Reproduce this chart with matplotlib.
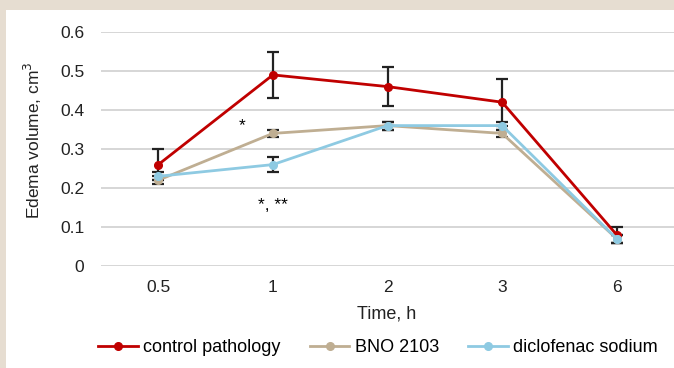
import numpy as np
import matplotlib.pyplot as plt

plt.rcParams['font.family'] = ['Liberation Sans', 'DejaVu Sans']

# data
times = ['0.5', '1', '2', '3', '6']
control = [0.26, 0.49, 0.46, 0.42, 0.08]
control_err = [0.04, 0.06, 0.05, 0.06, 0.02]
bno = [0.22, 0.34, 0.36, 0.34, 0.07]
bno_err = [0.01, 0.01, 0.01, 0.01, 0.01]
diclo = [0.23, 0.26, 0.36, 0.36, 0.07]
diclo_err = [0.01, 0.02, 0.01, 0.01, 0.01]

beige = '#e6ddd1'
fig = plt.figure(figsize=(6.74, 3.68), dpi=100, facecolor=beige)
# white panel
fig.patches.append(plt.Rectangle((6 / 674, 0), 1, 1 - 10 / 368, transform=fig.transFigure,
                                 facecolor='white', edgecolor='none', zorder=-10))

ax = fig.add_axes([101 / 674, 1 - 266 / 368, 573 / 674, 234 / 368])
ax.patch.set_alpha(0)
x = np.arange(len(times))

series = [
    (control, control_err, '#c00000', 'control pathology'),
    (bno, bno_err, '#bfae92', 'BNO 2103'),
    (diclo, diclo_err, '#8ecae2', 'diclofenac sodium'),
]
for vals, err, col, lab in series:
    ax.errorbar(x, vals, yerr=err, fmt='none', ecolor='#222222', elinewidth=1.6,
                capsize=4.5, capthick=1.6, zorder=2)
for vals, err, col, lab in series:
    ax.plot(x, vals, '-o', color=col, lw=2.0, ms=5.5, label=lab, zorder=3)

ax.text(0.73, 0.36, '*', ha='center', va='center', fontsize=12.5)
ax.text(1.0, 0.155, '*, **', ha='center', va='center', fontsize=12.5)

ax.set_xlim(-0.5, 4.5)
ax.set_ylim(0, 0.6)
ax.set_yticks(np.arange(0, 0.61, 0.1))
ax.set_yticklabels(['0', '0.1', '0.2', '0.3', '0.4', '0.5', '0.6'])
ax.set_xticks(x)
ax.set_xticklabels(times)
ax.tick_params(axis='both', length=0, labelsize=12.5, colors='#222222')
ax.tick_params(axis='y', pad=12)
ax.tick_params(axis='x', pad=10)
ax.grid(axis='y', color='#d0d0d0', lw=1.2)
ax.set_axisbelow(True)
for s in ax.spines.values():
    s.set_visible(False)

fig.text(387 / 674, 1 - 314 / 368, 'Time, h', ha='center', va='center', fontsize=13, color='#222222')
fig.text(33 / 674, 1 - 140 / 368, 'Edema volume, cm$^3$', rotation=90, ha='center', va='center',
         fontsize=12.5, color='#222222')

fig.legend(loc='center', bbox_to_anchor=(378 / 674, 1 - 348 / 368), ncol=3, frameon=False,
           fontsize=13, handlelength=2.2, handletextpad=0.3, columnspacing=1.6)

fig.savefig('out.png', dpi=100, facecolor=beige)
